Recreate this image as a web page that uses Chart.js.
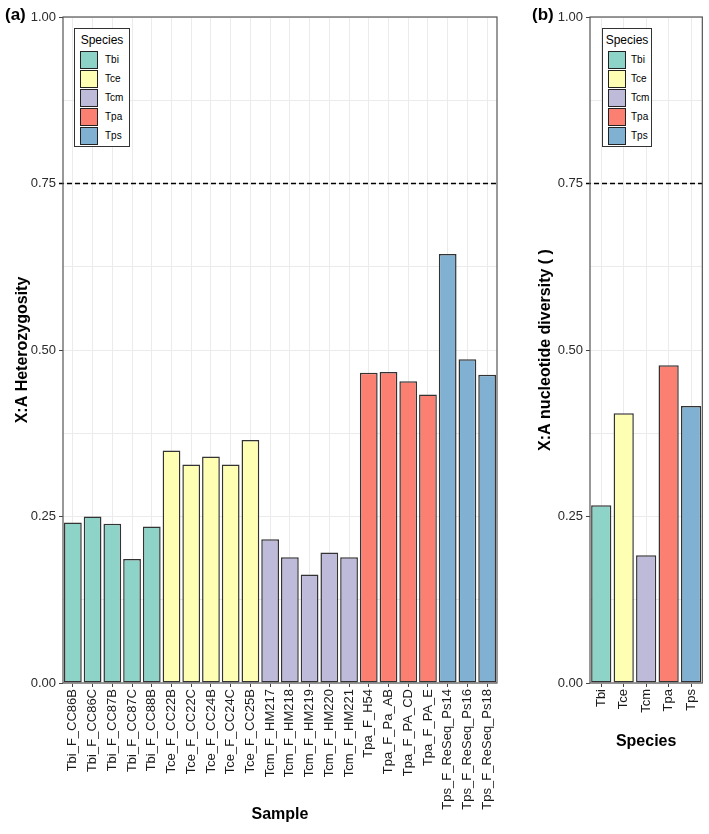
<!DOCTYPE html>
<html>
<head>
<meta charset="utf-8">
<script src="https://cdn.jsdelivr.net/npm/chart.js@4.4.1/dist/chart.umd.min.js"></script>
<style>
  body { margin: 0; background: #fff; font-family: "Liberation Sans", Arial, sans-serif; }
  #wrap { position: relative; width: 709px; height: 834px; overflow: hidden; }
  canvas { position: absolute; top: 0; }
  #chartA { left: 0; }
  #chartB { left: 510px; }
  .tag { position: absolute; top: 5px; font-weight: bold; font-size: 17px; color: #000; }
  .legend { position: absolute; top: 28px; border: 1px solid #333; background: #fff; box-sizing: border-box; }
  .legend .ttl { font-size: 12px; color: #000; margin: 4px 0 3px 0; text-align: center; white-space: nowrap; }
  .legend .row { display: flex; align-items: center; height: 19px; }
  .legend .sw { width: 16px; height: 16px; border: 1px solid #222; margin-right: 7px; }
  .legend .lb { font-size: 10px; color: #000; white-space: nowrap; }
  #legB .sw { margin-right: 5px; }
</style>
</head>
<body>
<div id="wrap">
  <canvas id="chartA" width="515" height="834"></canvas>
  <canvas id="chartB" width="199" height="834"></canvas>
  <div class="tag" style="left:5px">(a)</div>
  <div class="tag" style="left:532px">(b)</div>
  <div class="legend" id="legA" style="left:74px; width:56px; height:119px; padding-left:5px"></div>
  <div class="legend" id="legB" style="left:602px; width:50px; height:119px; padding-left:5px"></div>
</div>
<script>
// data
const samples = ['Tbi_F_CC86B', 'Tbi_F_CC86C', 'Tbi_F_CC87B', 'Tbi_F_CC87C', 'Tbi_F_CC88B',
  'Tce_F_CC22B', 'Tce_F_CC22C', 'Tce_F_CC24B', 'Tce_F_CC24C', 'Tce_F_CC25B',
  'Tcm_F_HM217', 'Tcm_F_HM218', 'Tcm_F_HM219', 'Tcm_F_HM220', 'Tcm_F_HM221',
  'Tpa_F_H54', 'Tpa_F_Pa_AB', 'Tpa_F_PA_CD', 'Tpa_F_PA_E',
  'Tps_F_ReSeq_Ps14', 'Tps_F_ReSeq_Ps16', 'Tps_F_ReSeq_Ps18']
const heterozygosity = [0.241, 0.250, 0.239, 0.186, 0.235,
  0.349, 0.328, 0.340, 0.328, 0.365,
  0.216, 0.189, 0.163, 0.196, 0.189,
  0.466, 0.467, 0.453, 0.433,
  0.644, 0.486, 0.463]
const species = ['Tbi', 'Tce', 'Tcm', 'Tpa', 'Tps']
const diversity = [0.267, 0.405, 0.192, 0.477, 0.416]
const speciesColors = ['#8dd3c7', '#ffffb3', '#bebada', '#fb8072', '#80b1d3']
const refLine = 0.75

Chart.defaults.font.family = '"Liberation Sans", Arial, sans-serif'

let colorOf = (sp) => speciesColors[species.indexOf(sp)]
let isMajor = (v) => Math.abs(v * 4 - Math.round(v * 4)) < 1e-6

// grey frame round the panel + dashed line
const frame = {
  id: 'frame',
  afterDraw(chart) {
    let c = chart.ctx
    let a = chart.chartArea
    let y = chart.scales.y.getPixelForValue(refLine)
    c.save()
    c.strokeStyle = '#000'
    c.lineWidth = 1.3
    c.setLineDash([5, 3])
    c.beginPath()
    c.moveTo(a.left - 4, y)
    c.lineTo(a.right, y)
    c.stroke()
    c.setLineDash([])
    c.strokeStyle = '#555'
    c.lineWidth = 1.2
    c.strokeRect(a.left, a.top, a.right - a.left, a.bottom - a.top)
    c.restore()
  }
}

function opts(yTitle, xTitle, yWidth, xTitlePad, yTitlePad, rightPad) {
  return {
    responsive: false,
    animation: false,
    layout: { padding: { top: 17, right: rightPad, bottom: 0, left: 0 } },
    plugins: { legend: { display: false }, tooltip: { enabled: false } },
    scales: {
      x: {
        offset: true,
        afterFit: (s) => { s.height = 151 },
        ticks: { autoSkip: false, maxRotation: 90, minRotation: 90, color: '#1a1a1a', font: { size: 13 }, padding: 2 },
        grid: { offset: false, color: '#ebebeb', tickLength: 4, tickColor: '#444' },
        border: { display: false },
        title: { display: true, text: xTitle, color: '#000', font: { size: 16, weight: 'bold' }, padding: { top: 0, bottom: xTitlePad } }
      },
      y: {
        min: 0,
        max: 1,
        afterFit: (s) => { s.width = yWidth },
        ticks: {
          stepSize: 0.125, color: '#2b2b2b', font: { size: 13 }, padding: 3, autoSkip: false,
          callback: (v) => isMajor(v) ? v.toFixed(2) : ''
        },
        grid: {
          color: '#ebebeb', tickLength: 4,
          tickColor: (c) => (c.tick && isMajor(c.tick.value)) ? '#444' : 'rgba(0,0,0,0)'
        },
        border: { display: false },
        title: { display: true, text: yTitle, color: '#000', font: { size: 16, weight: 'bold' }, padding: { top: yTitlePad, bottom: 0 } }
      }
    }
  }
}

let chartA = new Chart(document.getElementById('chartA').getContext('2d'), {
  type: 'bar',
  data: {
    labels: samples,
    datasets: [{
      data: heterozygosity,
      backgroundColor: samples.map((s) => colorOf(s.split('_')[0])),
      borderColor: '#333',
      borderWidth: 1.5,
      borderSkipped: false,
      barPercentage: 0.9,
      categoryPercentage: 1.0
    }]
  },
  options: opts('X:A Heterozygosity', 'Sample', 63, 10, 13, 18),
  plugins: [frame]
})

let chartB = new Chart(document.getElementById('chartB').getContext('2d'), {
  type: 'bar',
  data: {
    labels: species,
    datasets: [{
      data: diversity,
      backgroundColor: species.map(colorOf),
      borderColor: '#333',
      borderWidth: 1.5,
      borderSkipped: false,
      barPercentage: 0.9,
      categoryPercentage: 1.0
    }]
  },
  options: opts('X:A nucleotide diversity ( )', 'Species', 80, 83, 26, 3),
  plugins: [frame]
})

// legends in the top-left corner of each panel
function legenda(id) {
  let box = document.getElementById(id)
  let t = document.createElement('div')
  t.className = 'ttl'
  t.style.marginLeft = '-' + box.style.paddingLeft
  t.innerHTML = 'Species'
  box.appendChild(t)
  species.forEach((sp, i) => {
    let row = document.createElement('div')
    row.className = 'row'
    row.innerHTML = '<div class="sw" style="background:' + speciesColors[i] + '"></div><div class="lb">' + sp + '</div>'
    box.appendChild(row)
  })
}
legenda('legA')
legenda('legB')
</script>
</body>
</html>
